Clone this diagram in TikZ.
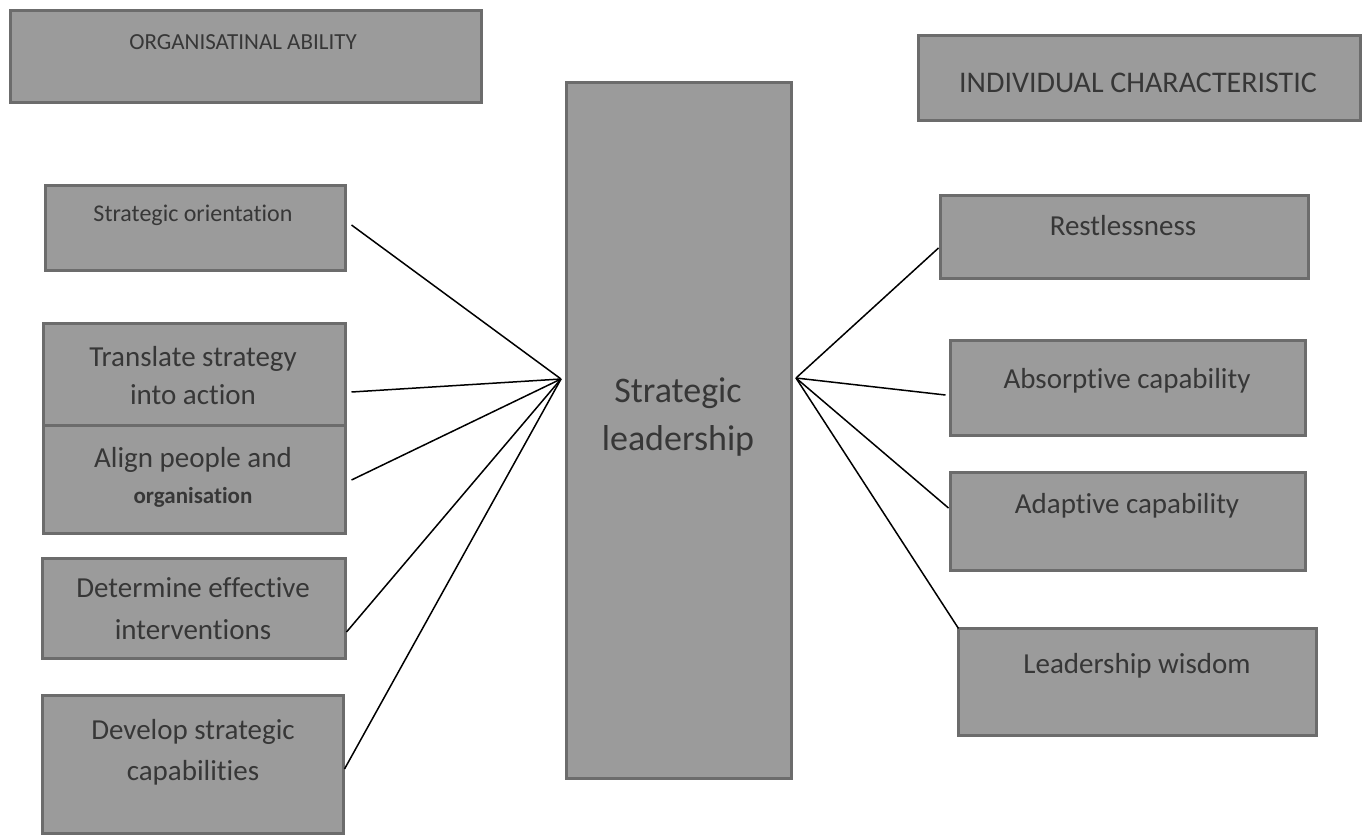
\documentclass[tikz,border=0pt]{standalone}
\usepackage{fontspec}
\setmainfont{Carlito}[Ligatures={NoCommon,NoContextual}]
\usetikzlibrary{calc}
\definecolor{boxfill}{RGB}{155,155,155}
\definecolor{boxedge}{RGB}{108,108,108}
\definecolor{ink}{RGB}{55,55,55}
\begin{document}
\begin{tikzpicture}[x=1pt,y=-1pt,
  panel/.style={draw=boxedge, line width=3pt, fill=boxfill, inner sep=0pt},
  caption/.style={text=ink, inner sep=0pt, align=center},
  link/.style={draw=black, line width=1.5pt}]
\useasboundingbox (0,0) rectangle (1365,836);
\fill[white] (0,0) rectangle (1365,836);

% group headings
\node[panel, minimum width=471, minimum height=92] (org) at (245.5,56) {};
\node[caption, font=\fontsize{23}{28}\selectfont] (orgT) at (243,42) {ORGANISATINAL ABILITY};
\node[panel, minimum width=442, minimum height=85] (ind) at (1139,77.5) {};
\node[caption, font=\fontsize{30}{36}\selectfont] (indT) at (1138,83) {INDIVIDUAL CHARACTERISTIC};

% organisational abilities (left column)
\node[panel, minimum width=300, minimum height=85] (so) at (195,227.5) {};
\node[caption, font=\fontsize{24}{29}\selectfont] (soT) at (193,215) {Strategic orientation};
\node[panel, minimum width=302, minimum height=102] (ts) at (194,374) {};
\node[caption, font=\fontsize{29}{38}\selectfont] (tsT) at (193,376) {Translate strategy\\into action};
\node[panel, minimum width=302, minimum height=108] (ap) at (194,479) {};
\node[caption, font=\fontsize{29}{35}\selectfont] (apT) at (193,460) {Align people and};
\node[caption, font=\bfseries\fontsize{23}{28}\selectfont] (apT2) at (193,497) {organisation};
\node[panel, minimum width=303, minimum height=100] (de) at (193.5,608) {};
\node[caption, font=\fontsize{29}{42}\selectfont] (deT) at (193,609) {Determine effective\\interventions};
\node[panel, minimum width=301, minimum height=138] (ds) at (192.5,764) {};
\node[caption, font=\fontsize{29}{41}\selectfont] (dsT) at (193,752.5) {Develop strategic\\capabilities};

% central concept
\node[panel, minimum width=225, minimum height=696] (sl) at (678.5,430) {};
\node[caption, font=\fontsize{36}{48}\selectfont] (slT) at (678,417) {Strategic\\leadership};

% individual characteristics (right column)
\node[panel, minimum width=368, minimum height=83] (re) at (1124,236.5) {};
\node[caption, font=\fontsize{29}{35}\selectfont] (reT) at (1123,226) {Restlessness};
\node[panel, minimum width=355, minimum height=95] (ab) at (1127.5,387.5) {};
\node[caption, font=\fontsize{29}{35}\selectfont] (abT) at (1127,381) {Absorptive capability};
\node[panel, minimum width=355, minimum height=98] (ad) at (1127.5,521) {};
\node[caption, font=\fontsize{29}{35}\selectfont] (adT) at (1127,506) {Adaptive capability};
\node[panel, minimum width=358, minimum height=107] (lw) at (1137,681.5) {};
\node[caption, font=\fontsize{29}{35}\selectfont] (lwT) at (1137,666) {Leadership wisdom};

% connectors meeting at the two sides of the central box
\coordinate (hubL) at (561,379);
\coordinate (hubR) at (796,378);
\draw[link] ($(so.east)+(5,-2.5)$) -- (hubL);
\draw[link] ($(ts.east)+(5,18)$) -- (hubL);
\draw[link] ($(ap.east)+(5,1)$) -- (hubL);
\draw[link] ($(de.east)+(0,24)$) -- (hubL);
\draw[link] ($(ds.east)+(0,5)$) -- (hubL);
\draw[link] ($(re.west)+(0,11.5)$) -- (hubR);
\draw[link] ($(ab.west)+(-3,7.5)$) -- (hubR);
\draw[link] ($(ad.west)+(0,-13)$) -- (hubR);
\draw[link] ($(lw.north west)+(2,2)$) -- (hubR);
\end{tikzpicture}
\end{document}
